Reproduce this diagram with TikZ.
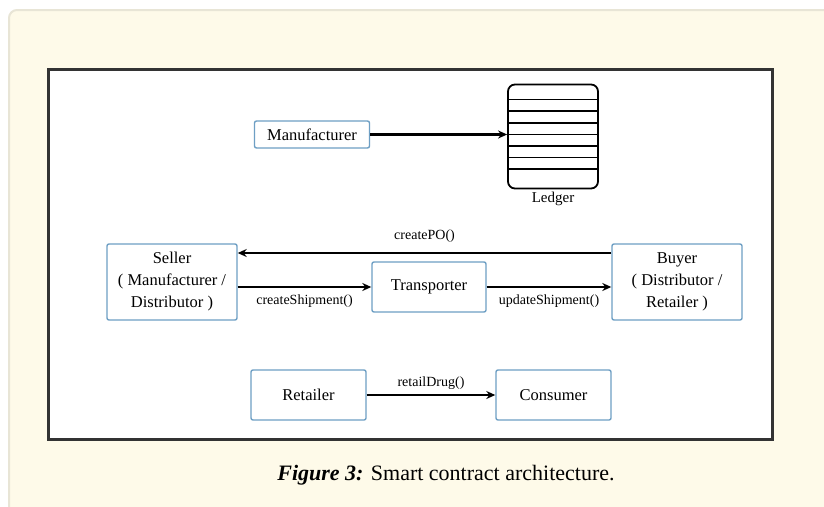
\documentclass[tikz,border=0pt]{standalone}
\usepackage{fontspec}
\setmainfont{Liberation Serif}
\usepackage{tikz}
\usetikzlibrary{positioning,arrows.meta,calc}
\definecolor{boxblue}{HTML}{6E9FC4}
\definecolor{panel}{HTML}{FEFAE9}
\definecolor{panelrim}{HTML}{E8E5D6}
\definecolor{frame}{HTML}{333333}
\tikzset{
  actor/.style={draw=boxblue,line width=1.4pt,rounded corners=2pt,fill=white,
                align=center,inner sep=2pt,font=\fontsize{16.5}{22}\selectfont},
  flow/.style={-{Stealth[length=9pt,width=8pt]},line width=2.2pt},
  call/.style={font=\fontsize{14}{16}\selectfont,inner sep=2pt}
}

\begin{document}
\begin{tikzpicture}[x=1pt,y=-1pt]
  \useasboundingbox (0,0) rectangle (824,506);
  \fill[white] (0,0) rectangle (824,506);
  \draw[panelrim,fill=panel,line width=2pt,rounded corners=8pt]
    (9,10) rectangle (840,520);
  \draw[frame,fill=white,line width=3pt] (48,69) rectangle (772,439);

  % top row
  \node[actor,minimum width=115pt,minimum height=27pt] (manufacturer) at (312,134.5) {Manufacturer};
  \node[draw,line width=1.8pt,rounded corners=7pt,minimum width=90pt,minimum height=104pt]
    (ledger) at (553,136.5) {};
  \foreach \k in {0,...,6}
    \draw[line width=1.6pt] ([yshift=-16pt-\k*11.6pt]ledger.north west)
      -- ([yshift=-16pt-\k*11.6pt]ledger.north east);
  \node[call,font=\fontsize{15}{16}\selectfont,below=0pt of ledger] (ledgername) {Ledger};
  \draw[flow] (manufacturer) -- (manufacturer -| ledger.west);

  % middle row
  \node[actor,minimum width=130pt,minimum height=76pt] (seller) at (172,282)
    {Seller\\( Manufacturer /\\Distributor )};
  \node[actor,minimum width=114pt,minimum height=50pt] (transporter) at (429,287) {Transporter};
  \node[actor,minimum width=130pt,minimum height=76pt] (buyer) at (677,282)
    {Buyer\\( Distributor /\\Retailer )};
  \draw[flow] ([yshift=29pt]buyer.west) -- ([yshift=29pt]seller.east)
    node[call,midway,above=7pt] (po) {createPO()};
  \draw[flow] (transporter.west -| seller.east) -- (transporter.west)
    node[call,midway,below=5pt] (ship) {createShipment()};
  \draw[flow] (transporter.east) -- (transporter.east -| buyer.west)
    node[call,midway,below=5pt] (update) {updateShipment()};

  % bottom row
  \node[actor,minimum width=115pt,minimum height=50pt] (retailer) at (308.5,395) {Retailer};
  \node[actor,minimum width=115pt,minimum height=50pt] (consumer) at (553.5,395) {Consumer};
  \draw[flow] (retailer) -- (consumer)
    node[call,midway,above=2pt] (drug) {retailDrug()};

  \node[font=\fontsize{22}{24}\selectfont] (caption) at (446,475)
    {\textbf{\textit{Figure 3:}} Smart contract architecture.};
\end{tikzpicture}
\end{document}
